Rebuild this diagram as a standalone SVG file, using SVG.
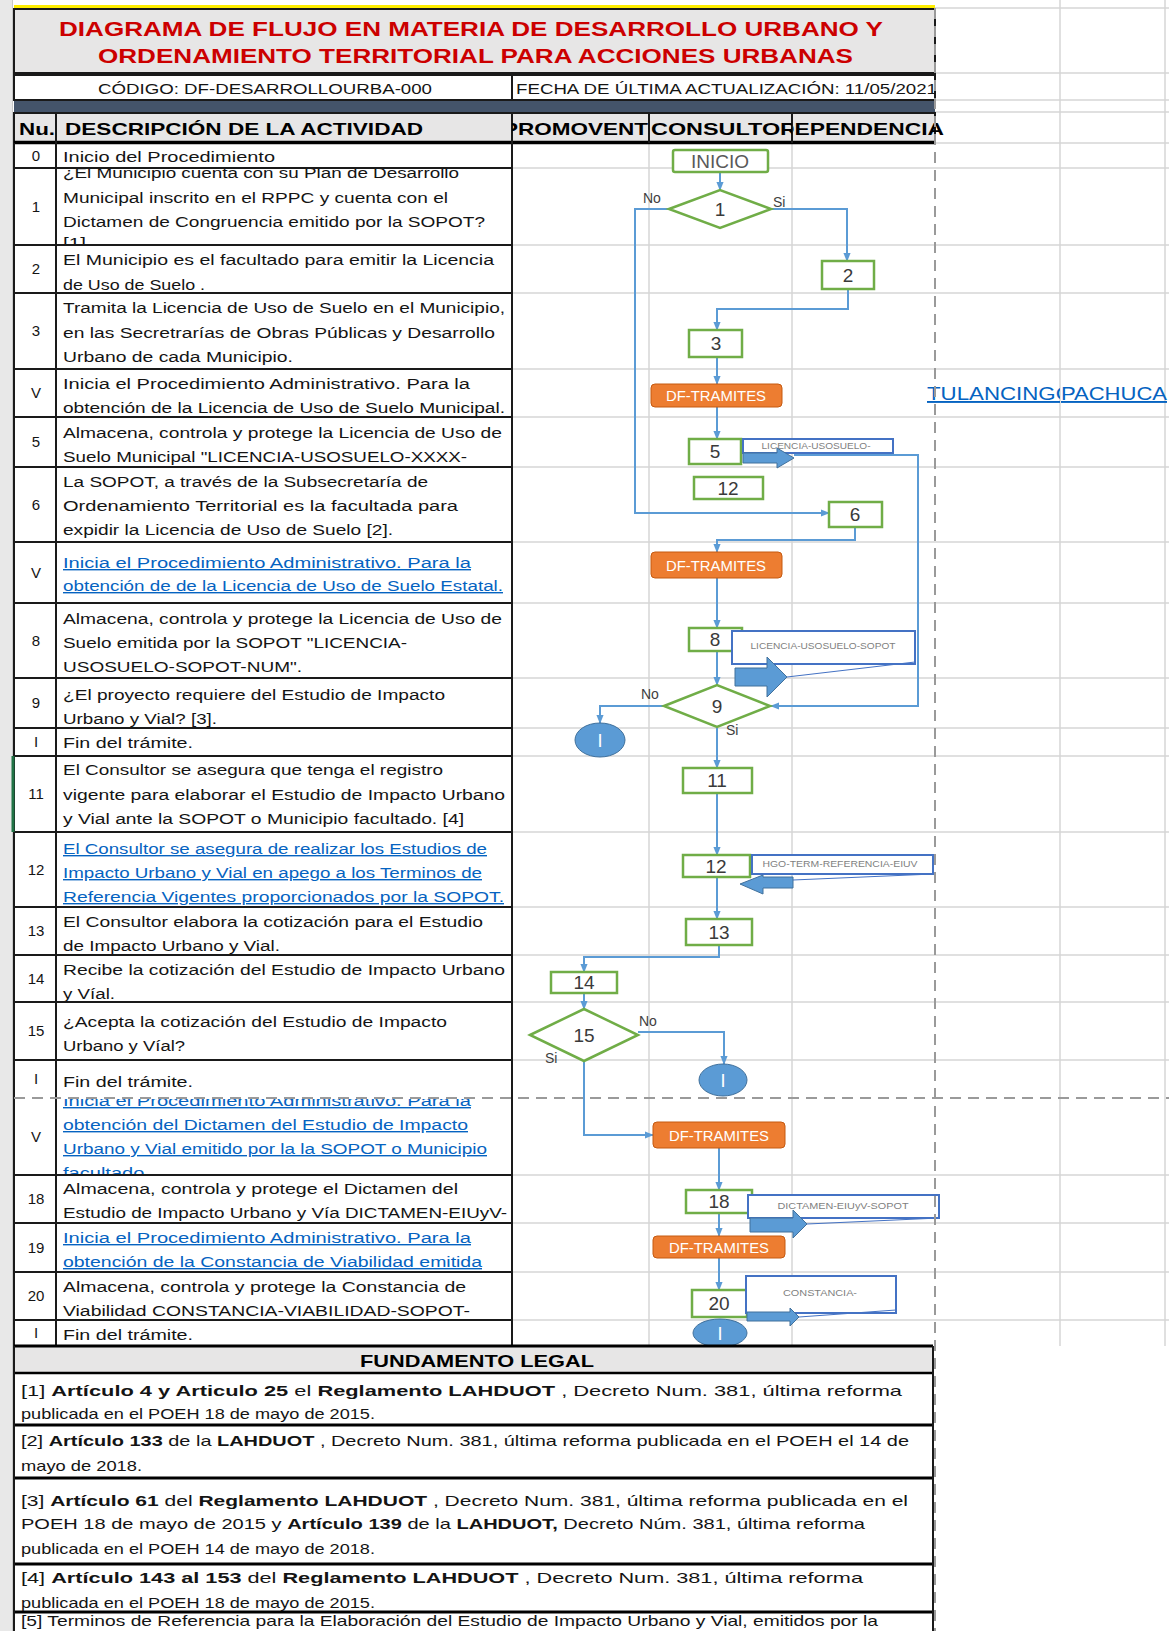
<svg xmlns="http://www.w3.org/2000/svg" width="1169" height="1631" viewBox="0 0 1169 1631">
<style>
.d{font-family:"Liberation Sans",Arial,sans-serif;font-size:14px;fill:#141414}
.lk{fill:#0563c1;text-decoration:underline}
.n{font-family:"Liberation Sans",Arial,sans-serif;font-size:15px;fill:#141414;text-anchor:middle}
.h{font-family:"Liberation Sans",Arial,sans-serif;font-size:17px;font-weight:bold;fill:#000}
.lg{font-family:"Liberation Sans",Arial,sans-serif;font-size:15px;fill:#141414}
.b{font-weight:bold}
.grid{stroke:#d6d6d6;stroke-width:1.5}
.blk{stroke:#1a1a1a;stroke-width:2}
.box{fill:#fff;stroke:#70ad47;stroke-width:2.5}
.bt{font-family:"Liberation Sans",Arial,sans-serif;font-size:19px;fill:#3a3a3a;text-anchor:middle}
.df{fill:#ed7d31;stroke:#c55a11;stroke-width:1}
.dft{font-family:"Liberation Sans",Arial,sans-serif;font-size:15px;fill:#fff;text-anchor:middle}
.end{fill:#5b9bd5;stroke:#41719c;stroke-width:1}
.endt{font-family:"Liberation Sans",Arial,sans-serif;font-size:18px;fill:#fff;text-anchor:middle}
.lbl{fill:#fff;stroke:#4472c4;stroke-width:2}
.lblt{font-family:"Liberation Sans",Arial,sans-serif;font-size:9px;fill:#7f7f7f;text-anchor:middle}
.ba{fill:#5b9bd5;stroke:#41719c;stroke-width:1}
.tail{stroke:#4472c4;stroke-width:1;fill:none}
.cn{fill:none;stroke:#5b9bd5;stroke-width:2}
.yn{font-family:"Liberation Sans",Arial,sans-serif;font-size:14px;fill:#404040}
.dash{stroke:#9a9a9a;stroke-width:2;stroke-dasharray:11 7}
</style>
<defs>
<marker id="ah" viewBox="0 0 10 10" refX="9" refY="5" markerWidth="9" markerHeight="9" markerUnits="userSpaceOnUse" orient="auto"><path d="M0,1 L10,5 L0,9 z" fill="#5b9bd5"/></marker>
<clipPath id="cProm"><rect x="512" y="113" width="137" height="30"/></clipPath>
<clipPath id="cCons"><rect x="649" y="113" width="143" height="30"/></clipPath>
<clipPath id="cDep"><rect x="793" y="113" width="200" height="30"/></clipPath>
<clipPath id="cFecha"><rect x="513" y="76" width="422" height="24"/></clipPath>
<clipPath id="cTul"><rect x="900" y="370" width="160" height="40"/></clipPath>
<clipPath id="r1"><rect x="57" y="169" width="454" height="75"/></clipPath>
<clipPath id="r14"><rect x="57" y="956" width="454" height="45"/></clipPath>
<clipPath id="r17"><rect x="57" y="1099" width="454" height="75"/></clipPath>
<clipPath id="r19"><rect x="57" y="1224" width="454" height="47"/></clipPath>
<clipPath id="r5"><rect x="57" y="418" width="454" height="48"/></clipPath>
</defs>

<rect x="0" y="0" width="1169" height="1631" fill="#fff"/>
<rect x="0" y="0" width="12" height="1631" fill="#e8e8e8"/>
<line x1="12.5" y1="0" x2="12.5" y2="1631" stroke="#c8c8c8"/>

<g id="grid">
<line class="grid" x1="1060" y1="0" x2="1060" y2="1346"/>
<line class="grid" x1="1165" y1="0" x2="1165" y2="1346"/>
<line class="grid" x1="935" y1="8" x2="1169" y2="8"/>
<line class="grid" x1="935" y1="73" x2="1169" y2="73"/>
<line class="grid" x1="935" y1="100" x2="1169" y2="100"/>
<line class="grid" x1="935" y1="112" x2="1169" y2="112"/>
<line class="grid" x1="935" y1="143" x2="1169" y2="143"/>
<line class="grid" x1="649" y1="143" x2="649" y2="1346"/>
<line class="grid" x1="792" y1="143" x2="792" y2="1346"/>
<line class="grid" x1="512" y1="168" x2="1169" y2="168"/>
<line class="grid" x1="512" y1="245" x2="1169" y2="245"/>
<line class="grid" x1="512" y1="293" x2="1169" y2="293"/>
<line class="grid" x1="512" y1="369" x2="1169" y2="369"/>
<line class="grid" x1="512" y1="417" x2="1169" y2="417"/>
<line class="grid" x1="512" y1="467" x2="1169" y2="467"/>
<line class="grid" x1="512" y1="542" x2="1169" y2="542"/>
<line class="grid" x1="512" y1="603" x2="1169" y2="603"/>
<line class="grid" x1="512" y1="678" x2="1169" y2="678"/>
<line class="grid" x1="512" y1="728" x2="1169" y2="728"/>
<line class="grid" x1="512" y1="756" x2="1169" y2="756"/>
<line class="grid" x1="512" y1="832" x2="1169" y2="832"/>
<line class="grid" x1="512" y1="907" x2="1169" y2="907"/>
<line class="grid" x1="512" y1="955" x2="1169" y2="955"/>
<line class="grid" x1="512" y1="1002" x2="1169" y2="1002"/>
<line class="grid" x1="512" y1="1060" x2="1169" y2="1060"/>
<line class="grid" x1="512" y1="1175" x2="1169" y2="1175"/>
<line class="grid" x1="512" y1="1223" x2="1169" y2="1223"/>
<line class="grid" x1="512" y1="1272" x2="1169" y2="1272"/>
<line class="grid" x1="512" y1="1320" x2="1169" y2="1320"/>
</g>

<g id="title">
<rect x="14" y="5" width="921" height="4" fill="#ffee00"/>
<rect x="14" y="9" width="921" height="64" fill="#e7e6e6" stroke="#1a1a1a" stroke-width="2"/>
<text x="59" y="36" textLength="824" lengthAdjust="spacingAndGlyphs" style="font-family:'Liberation Sans',Arial,sans-serif;font-size:21px;font-weight:bold;fill:#cc0000">DIAGRAMA DE FLUJO EN MATERIA DE DESARROLLO URBANO Y</text>
<text x="98" y="63" textLength="755" lengthAdjust="spacingAndGlyphs" style="font-family:'Liberation Sans',Arial,sans-serif;font-size:21px;font-weight:bold;fill:#cc0000">ORDENAMIENTO TERRITORIAL PARA ACCIONES URBANAS</text>
</g>

<g id="codigo">
<rect x="14" y="75" width="921" height="25" fill="#fff" stroke="#1a1a1a" stroke-width="2"/>
<line class="blk" x1="512" y1="75" x2="512" y2="100"/>
<text x="98" y="94" textLength="334" lengthAdjust="spacingAndGlyphs" style="font-family:'Liberation Sans',Arial,sans-serif;font-size:15px;fill:#141414">CÓDIGO: DF-DESARROLLOURBA-000</text>
<text x="516" y="94" textLength="421" lengthAdjust="spacingAndGlyphs" clip-path="url(#cFecha)" style="font-family:'Liberation Sans',Arial,sans-serif;font-size:15px;fill:#141414">FECHA DE ÚLTIMA ACTUALIZACIÓN: 11/05/2021</text>
</g>

<rect x="14" y="101" width="921" height="11" fill="#44546a"/>

<g id="header">
<rect x="14" y="113" width="921" height="30" fill="#e7e6e6" stroke="#1a1a1a" stroke-width="2"/>
<line x1="14" y1="142.5" x2="935" y2="142.5" stroke="#000" stroke-width="3.5"/>
<line class="blk" x1="56" y1="113" x2="56" y2="143"/>
<line class="blk" x1="512" y1="113" x2="512" y2="143"/>
<line class="blk" x1="649" y1="113" x2="649" y2="143"/>
<line class="blk" x1="792" y1="113" x2="792" y2="143"/>
<text class="h" x="19" y="135" textLength="36" lengthAdjust="spacingAndGlyphs">Nu.</text>
<text class="h" x="65" y="135" textLength="358" lengthAdjust="spacingAndGlyphs">DESCRIPCIÓN DE LA ACTIVIDAD</text>
<text class="h" x="503" y="135" textLength="160" lengthAdjust="spacingAndGlyphs" clip-path="url(#cProm)">PROMOVENTE</text>
<text class="h" x="651" y="135" textLength="146" lengthAdjust="spacingAndGlyphs" clip-path="url(#cCons)">CONSULTOR</text>
<text class="h" x="778" y="135" textLength="166" lengthAdjust="spacingAndGlyphs" clip-path="url(#cDep)">DEPENDENCIA</text>
</g>

<g id="tabla">
<line class="blk" x1="14" y1="143" x2="14" y2="1346"/>
<line class="blk" x1="56" y1="143" x2="56" y2="1346"/>
<line class="blk" x1="512" y1="143" x2="512" y2="1346"/>
<line class="blk" x1="14" y1="168" x2="512" y2="168"/>
<line class="blk" x1="14" y1="245" x2="512" y2="245"/>
<line class="blk" x1="14" y1="293" x2="512" y2="293"/>
<line class="blk" x1="14" y1="369" x2="512" y2="369"/>
<line class="blk" x1="14" y1="417" x2="512" y2="417"/>
<line class="blk" x1="14" y1="467" x2="512" y2="467"/>
<line class="blk" x1="14" y1="542" x2="512" y2="542"/>
<line class="blk" x1="14" y1="603" x2="512" y2="603"/>
<line class="blk" x1="14" y1="678" x2="512" y2="678"/>
<line class="blk" x1="14" y1="728" x2="512" y2="728"/>
<line class="blk" x1="14" y1="756" x2="512" y2="756"/>
<line class="blk" x1="14" y1="832" x2="512" y2="832"/>
<line class="blk" x1="14" y1="907" x2="512" y2="907"/>
<line class="blk" x1="14" y1="955" x2="512" y2="955"/>
<line class="blk" x1="14" y1="1002" x2="512" y2="1002"/>
<line class="blk" x1="14" y1="1060" x2="512" y2="1060"/>
<line class="blk" x1="14" y1="1175" x2="512" y2="1175"/>
<line class="blk" x1="14" y1="1223" x2="512" y2="1223"/>
<line class="blk" x1="14" y1="1272" x2="512" y2="1272"/>
<line class="blk" x1="14" y1="1320" x2="512" y2="1320"/>
<line x1="13" y1="756" x2="13" y2="832" stroke="#217346" stroke-width="3"/>

<text class="n" x="36" y="161">0</text>
<text class="n" x="36" y="212">1</text>
<text class="n" x="36" y="274">2</text>
<text class="n" x="36" y="336">3</text>
<text class="n" x="36" y="398">V</text>
<text class="n" x="36" y="447">5</text>
<text class="n" x="36" y="510">6</text>
<text class="n" x="36" y="578">V</text>
<text class="n" x="36" y="646">8</text>
<text class="n" x="36" y="708">9</text>
<text class="n" x="36" y="747">I</text>
<text class="n" x="36" y="799">11</text>
<text class="n" x="36" y="875">12</text>
<text class="n" x="36" y="936">13</text>
<text class="n" x="36" y="984">14</text>
<text class="n" x="36" y="1036">15</text>
<text class="n" x="36" y="1084">I</text>
<text class="n" x="36" y="1142">V</text>
<text class="n" x="36" y="1204">18</text>
<text class="n" x="36" y="1253">19</text>
<text class="n" x="36" y="1301">20</text>
<text class="n" x="36" y="1338">I</text>

<text class="d" x="63" y="162" textLength="212" lengthAdjust="spacingAndGlyphs">Inicio del Procedimiento</text>
<g clip-path="url(#r1)">
<text class="d" x="63" y="178" textLength="396" lengthAdjust="spacingAndGlyphs">¿El Municipio cuenta con su Plan de Desarrollo</text>
<text class="d" x="63" y="203" textLength="385" lengthAdjust="spacingAndGlyphs">Municipal inscrito en el RPPC y cuenta con el</text>
<text class="d" x="63" y="227" textLength="422" lengthAdjust="spacingAndGlyphs">Dictamen de Congruencia emitido por la SOPOT?</text>
<text class="d" x="63" y="248" textLength="23" lengthAdjust="spacingAndGlyphs">[1]</text>
</g>
<text class="d" x="63" y="265" textLength="431" lengthAdjust="spacingAndGlyphs">El Municipio es el facultado para emitir la Licencia</text>
<text class="d" x="63" y="290" textLength="142" lengthAdjust="spacingAndGlyphs">de Uso de Suelo .</text>
<text class="d" x="63" y="313" textLength="442" lengthAdjust="spacingAndGlyphs">Tramita la Licencia de Uso de Suelo en el Municipio,</text>
<text class="d" x="63" y="338" textLength="432" lengthAdjust="spacingAndGlyphs">en las Secretrarías de Obras Públicas y Desarrollo</text>
<text class="d" x="63" y="362" textLength="230" lengthAdjust="spacingAndGlyphs">Urbano  de cada Municipio.</text>
<text class="d" x="63" y="389" textLength="407" lengthAdjust="spacingAndGlyphs">Inicia el Procedimiento Administrativo. Para la</text>
<text class="d" x="63" y="413" textLength="442" lengthAdjust="spacingAndGlyphs">obtención de la Licencia de Uso de Suelo Municipal.</text>
<g clip-path="url(#r5)">
<text class="d" x="63" y="438" textLength="439" lengthAdjust="spacingAndGlyphs">Almacena, controla y protege la Licencia de Uso de</text>
<text class="d" x="63" y="462" textLength="404" lengthAdjust="spacingAndGlyphs">Suelo Municipal "LICENCIA-USOSUELO-XXXX-</text>
</g>
<text class="d" x="63" y="487" textLength="365" lengthAdjust="spacingAndGlyphs">La SOPOT, a través de la Subsecretaría de</text>
<text class="d" x="63" y="511" textLength="395" lengthAdjust="spacingAndGlyphs">Ordenamiento Territorial  es la facultada para</text>
<text class="d" x="63" y="535" textLength="330" lengthAdjust="spacingAndGlyphs">expidir la Licencia de Uso de Suelo [2].</text>
<text class="d lk" x="63" y="568" textLength="408" lengthAdjust="spacingAndGlyphs">Inicia el Procedimiento Administrativo. Para la</text>
<text class="d lk" x="63" y="591" textLength="440" lengthAdjust="spacingAndGlyphs">obtención de de la Licencia de Uso de Suelo Estatal.</text>
<text class="d" x="63" y="624" textLength="439" lengthAdjust="spacingAndGlyphs">Almacena, controla y protege la Licencia de Uso de</text>
<text class="d" x="63" y="648" textLength="344" lengthAdjust="spacingAndGlyphs">Suelo emitida por la SOPOT "LICENCIA-</text>
<text class="d" x="63" y="672" textLength="239" lengthAdjust="spacingAndGlyphs">USOSUELO-SOPOT-NUM".</text>
<text class="d" x="63" y="700" textLength="382" lengthAdjust="spacingAndGlyphs">¿El proyecto requiere del Estudio de Impacto</text>
<text class="d" x="63" y="724" textLength="154" lengthAdjust="spacingAndGlyphs">Urbano y Vial? [3].</text>
<text class="d" x="63" y="748" textLength="130" lengthAdjust="spacingAndGlyphs">Fin del trámite.</text>
<text class="d" x="63" y="775" textLength="380" lengthAdjust="spacingAndGlyphs">El Consultor se asegura que tenga el registro</text>
<text class="d" x="63" y="800" textLength="442" lengthAdjust="spacingAndGlyphs">vigente para elaborar el Estudio de Impacto Urbano</text>
<text class="d" x="63" y="824" textLength="401" lengthAdjust="spacingAndGlyphs">y Vial ante la SOPOT o Municipio facultado. [4]</text>
<text class="d lk" x="63" y="854" textLength="424" lengthAdjust="spacingAndGlyphs">El Consultor se asegura de realizar los Estudios de</text>
<text class="d lk" x="63" y="878" textLength="419" lengthAdjust="spacingAndGlyphs">Impacto Urbano y Vial en apego a los Terminos de</text>
<text class="d lk" x="63" y="902" textLength="441" lengthAdjust="spacingAndGlyphs">Referencia Vigentes proporcionados por la SOPOT.</text>
<text class="d" x="63" y="927" textLength="420" lengthAdjust="spacingAndGlyphs">El Consultor elabora la cotización para el Estudio</text>
<text class="d" x="63" y="951" textLength="217" lengthAdjust="spacingAndGlyphs">de Impacto Urbano y Vial.</text>
<g clip-path="url(#r14)">
<text class="d" x="63" y="975" textLength="442" lengthAdjust="spacingAndGlyphs">Recibe la cotización del Estudio de Impacto Urbano</text>
<text class="d" x="63" y="999" textLength="52" lengthAdjust="spacingAndGlyphs">y Víal.</text>
</g>
<text class="d" x="63" y="1027" textLength="384" lengthAdjust="spacingAndGlyphs">¿Acepta la cotización del Estudio de Impacto</text>
<text class="d" x="63" y="1051" textLength="122" lengthAdjust="spacingAndGlyphs">Urbano y Víal?</text>
<text class="d" x="63" y="1087" textLength="130" lengthAdjust="spacingAndGlyphs">Fin del trámite.</text>
<g clip-path="url(#r17)">
<text class="d lk" x="63" y="1106" textLength="408" lengthAdjust="spacingAndGlyphs">Inicia el Procedimiento Administrativo. Para la</text>
<text class="d lk" x="63" y="1130" textLength="405" lengthAdjust="spacingAndGlyphs">obtención del Dictamen del Estudio de Impacto</text>
<text class="d lk" x="63" y="1154" textLength="424" lengthAdjust="spacingAndGlyphs">Urbano y Vial emitido por la la SOPOT o Municipio</text>
<text class="d lk" x="63" y="1178" textLength="87" lengthAdjust="spacingAndGlyphs">facultado.</text>
</g>
<text class="d" x="63" y="1194" textLength="395" lengthAdjust="spacingAndGlyphs">Almacena, controla y protege el Dictamen del</text>
<text class="d" x="63" y="1218" textLength="444" lengthAdjust="spacingAndGlyphs">Estudio de Impacto Urbano y Vía DICTAMEN-EIUyV-</text>
<g clip-path="url(#r19)">
<text class="d lk" x="63" y="1243" textLength="408" lengthAdjust="spacingAndGlyphs">Inicia el Procedimiento Administrativo. Para la</text>
<text class="d lk" x="63" y="1267" textLength="419" lengthAdjust="spacingAndGlyphs">obtención de la Constancia de Viabilidad emitida</text>
</g>
<text class="d" x="63" y="1292" textLength="403" lengthAdjust="spacingAndGlyphs">Almacena, controla y protege la Constancia de</text>
<text class="d" x="63" y="1316" textLength="407" lengthAdjust="spacingAndGlyphs">Viabilidad CONSTANCIA-VIABILIDAD-SOPOT-</text>
<text class="d" x="63" y="1340" textLength="130" lengthAdjust="spacingAndGlyphs">Fin del trámite.</text>
</g>

<g id="link">
<text x="927" y="400" textLength="146" lengthAdjust="spacingAndGlyphs" clip-path="url(#cTul)" style="font-family:'Liberation Sans',Arial,sans-serif;font-size:19px;fill:#0563c1;text-decoration:underline">TULANCINGO</text>
<text x="1061" y="400" textLength="106" lengthAdjust="spacingAndGlyphs" style="font-family:'Liberation Sans',Arial,sans-serif;font-size:19px;fill:#0563c1;text-decoration:underline">PACHUCA</text>
</g>

<g id="connectors">
<path class="cn" d="M720,172 V190" marker-end="url(#ah)"/>
<path class="cn" d="M669,209 H635 V513 H829" marker-end="url(#ah)"/>
<path class="cn" d="M771,209 H847 V261" marker-end="url(#ah)"/>
<path class="cn" d="M848,289 V309 H717 V330" marker-end="url(#ah)"/>
<path class="cn" d="M717,357 V384" marker-end="url(#ah)"/>
<path class="cn" d="M717,407 V439" marker-end="url(#ah)"/>
<path class="cn" d="M794,455 H918 V706 H771" marker-end="url(#ah)"/>
<path class="cn" d="M855,527 V540 H717 V552" marker-end="url(#ah)"/>
<path class="cn" d="M717,578 V628" marker-end="url(#ah)"/>
<path class="cn" d="M717,651 V685" marker-end="url(#ah)"/>
<path class="cn" d="M664,706 H600 V723" marker-end="url(#ah)"/>
<path class="cn" d="M717,727 V768" marker-end="url(#ah)"/>
<path class="cn" d="M717,793 V855" marker-end="url(#ah)"/>
<path class="cn" d="M717,877 V919" marker-end="url(#ah)"/>
<path class="cn" d="M719,945 V957 H584 V972" marker-end="url(#ah)"/>
<path class="cn" d="M584,993 V1009" marker-end="url(#ah)"/>
<path class="cn" d="M638,1032 H724 V1064" marker-end="url(#ah)"/>
<path class="cn" d="M584,1061 V1135 H653" marker-end="url(#ah)"/>
<path class="cn" d="M719,1148 V1190" marker-end="url(#ah)"/>
<path class="cn" d="M719,1213 V1236" marker-end="url(#ah)"/>
<path class="cn" d="M719,1258 V1290" marker-end="url(#ah)"/>
</g>

<g id="n-inicio"><rect class="box" x="673" y="150" width="95" height="22" rx="2"/><text class="bt" x="720" y="168" style="fill:#595959">INICIO</text></g>
<g id="n-1"><path class="box" d="M669,209 L720,190 L771,209 L720,228 Z"/><text class="bt" x="720" y="216">1</text></g>
<g id="n-2"><rect class="box" x="822" y="261" width="52" height="28"/><text class="bt" x="848" y="282">2</text></g>
<g id="n-3"><rect class="box" x="689" y="330" width="53" height="27"/><text class="bt" x="716" y="350">3</text></g>
<g id="n-df1"><rect class="df" x="651" y="384" width="131" height="23" rx="4"/><text class="dft" x="716" y="401" textLength="100" lengthAdjust="spacingAndGlyphs">DF-TRAMITES</text></g>
<g id="n-5"><rect class="box" x="689" y="439" width="52" height="25"/><text class="bt" x="715" y="458">5</text></g>
<g id="n-12a"><rect class="box" x="694" y="477" width="69" height="22"/><text class="bt" x="728" y="495">12</text></g>
<g id="n-6"><rect class="box" x="829" y="502" width="53" height="25"/><text class="bt" x="855" y="521">6</text></g>
<g id="n-df2"><rect class="df" x="651" y="552" width="131" height="26" rx="4"/><text class="dft" x="716" y="571" textLength="100" lengthAdjust="spacingAndGlyphs">DF-TRAMITES</text></g>
<g id="n-8"><rect class="box" x="689" y="628" width="53" height="23"/><text class="bt" x="715" y="646">8</text></g>
<g id="n-9"><path class="box" d="M664,706 L717,685 L770,706 L717,727 Z"/><text class="bt" x="717" y="713">9</text></g>
<g id="n-fin1"><ellipse class="end" cx="600" cy="740" rx="25" ry="17"/><text class="endt" x="600" y="747">I</text></g>
<g id="n-11"><rect class="box" x="683" y="768" width="69" height="25"/><text class="bt" x="717" y="787">11</text></g>
<g id="n-12b"><rect class="box" x="683" y="855" width="67" height="22"/><text class="bt" x="716" y="873">12</text></g>
<g id="n-13"><rect class="box" x="686" y="919" width="66" height="26"/><text class="bt" x="719" y="939">13</text></g>
<g id="n-14"><rect class="box" x="551" y="972" width="66" height="21"/><text class="bt" x="584" y="989">14</text></g>
<g id="n-15"><path class="box" d="M530,1035 L584,1009 L638,1035 L584,1061 Z"/><text class="bt" x="584" y="1042">15</text></g>
<g id="n-fin2"><ellipse class="end" cx="723" cy="1080" rx="24" ry="16"/><text class="endt" x="723" y="1087">I</text></g>
<g id="n-df3"><rect class="df" x="653" y="1122" width="132" height="26" rx="4"/><text class="dft" x="719" y="1141" textLength="100" lengthAdjust="spacingAndGlyphs">DF-TRAMITES</text></g>
<g id="n-18"><rect class="box" x="686" y="1190" width="66" height="23"/><text class="bt" x="719" y="1208">18</text></g>
<g id="n-df4"><rect class="df" x="653" y="1236" width="132" height="22" rx="4"/><text class="dft" x="719" y="1253" textLength="100" lengthAdjust="spacingAndGlyphs">DF-TRAMITES</text></g>
<g id="n-20"><rect class="box" x="692" y="1290" width="55" height="27"/><text class="bt" x="719" y="1310">20</text></g>
<g id="n-fin3"><ellipse class="end" cx="720" cy="1333" rx="27" ry="14"/><text class="endt" x="720" y="1340">I</text></g>

<g id="doc-5">
<rect class="lbl" x="743" y="439" width="150" height="14"/>
<text class="lblt" x="816" y="449" textLength="109" lengthAdjust="spacingAndGlyphs">LICENCIA-USOSUELO-</text>
<polygon class="ba" points="743,453 777,453 777,448 794,458 777,468 777,463 743,463"/>
</g>
<g id="doc-8">
<rect class="lbl" x="732" y="631" width="183" height="33"/>
<text class="lblt" x="823" y="649" textLength="145" lengthAdjust="spacingAndGlyphs">LICENCIA-USOSUELO-SOPOT</text>
<line class="tail" x1="787" y1="677" x2="915" y2="662"/>
<polygon class="ba" points="735,668 767,668 767,657 787,677 767,697 767,686 735,686"/>
</g>
<g id="doc-12">
<rect class="lbl" x="752" y="855" width="181" height="19"/>
<text class="lblt" x="840" y="867" textLength="155" lengthAdjust="spacingAndGlyphs">HGO-TERM-REFERENCIA-EIUV</text>
<line class="tail" x1="793" y1="880" x2="933" y2="874"/>
<polygon class="ba" points="793,877 763,877 763,875 740,884 763,894 763,888 793,888"/>
</g>
<g id="doc-18">
<rect class="lbl" x="748" y="1195" width="191" height="23"/>
<text class="lblt" x="843" y="1209" textLength="131" lengthAdjust="spacingAndGlyphs">DICTAMEN-EIUyV-SOPOT</text>
<line class="tail" x1="807" y1="1224" x2="939" y2="1218"/>
<polygon class="ba" points="750,1218 793,1218 793,1210 807,1224 793,1238 793,1232 750,1232"/>
</g>
<g id="doc-20">
<rect class="lbl" x="746" y="1276" width="150" height="37"/>
<text class="lblt" x="820" y="1296" textLength="74" lengthAdjust="spacingAndGlyphs">CONSTANCIA-</text>
<line class="tail" x1="799" y1="1317" x2="896" y2="1310"/>
<polygon class="ba" points="747,1312 790,1312 790,1308 799,1317 790,1326 790,1321 747,1321"/>
</g>

<g id="labels-sino">
<text class="yn" x="643" y="203">No</text>
<text class="yn" x="773" y="207">Si</text>
<text class="yn" x="641" y="699">No</text>
<text class="yn" x="726" y="735">Si</text>
<text class="yn" x="639" y="1026">No</text>
<text class="yn" x="545" y="1063">Si</text>
</g>

<g id="legal">
<rect x="14" y="1346" width="919" height="27" fill="#e7e6e6"/>
<line x1="14" y1="1346" x2="933" y2="1346" stroke="#000" stroke-width="3"/>
<line x1="14" y1="1373" x2="933" y2="1373" stroke="#000" stroke-width="2.5"/>
<line x1="14" y1="1425" x2="933" y2="1425" stroke="#000" stroke-width="3"/>
<line x1="14" y1="1478" x2="933" y2="1478" stroke="#000" stroke-width="3"/>
<line x1="14" y1="1564" x2="933" y2="1564" stroke="#000" stroke-width="3"/>
<line x1="14" y1="1612" x2="933" y2="1612" stroke="#000" stroke-width="3"/>
<line class="blk" x1="14" y1="1346" x2="14" y2="1631"/>
<line class="blk" x1="933" y1="1346" x2="933" y2="1631"/>
<text class="h" x="360" y="1367" textLength="234" lengthAdjust="spacingAndGlyphs">FUNDAMENTO LEGAL</text>
<text class="lg" x="21" y="1396" textLength="881" lengthAdjust="spacingAndGlyphs">[1] <tspan class="b">Artículo 4 y Articulo 25</tspan>  el <tspan class="b">Reglamento LAHDUOT</tspan> , Decreto Num. 381, última reforma</text>
<text class="lg" x="21" y="1419" textLength="354" lengthAdjust="spacingAndGlyphs">publicada en el POEH 18 de mayo de 2015.</text>
<text class="lg" x="21" y="1446" textLength="888" lengthAdjust="spacingAndGlyphs">[2] <tspan class="b">Artículo 133</tspan>  de la <tspan class="b">LAHDUOT</tspan> , Decreto Num. 381, última reforma publicada en el POEH el 14 de</text>
<text class="lg" x="21" y="1471" textLength="121" lengthAdjust="spacingAndGlyphs">mayo de 2018.</text>
<text class="lg" x="21" y="1506" textLength="887" lengthAdjust="spacingAndGlyphs">[3] <tspan class="b">Artículo 61</tspan> del <tspan class="b">Reglamento LAHDUOT</tspan> , Decreto Num. 381, última reforma publicada en el</text>
<text class="lg" x="21" y="1529" textLength="844" lengthAdjust="spacingAndGlyphs">POEH 18 de mayo de 2015 y <tspan class="b">Artículo 139</tspan>  de la <tspan class="b">LAHDUOT,</tspan> Decreto Núm. 381, última reforma</text>
<text class="lg" x="21" y="1554" textLength="354" lengthAdjust="spacingAndGlyphs">publicada en el POEH 14 de mayo de 2018.</text>
<text class="lg" x="21" y="1583" textLength="842" lengthAdjust="spacingAndGlyphs">[4] <tspan class="b">Artículo 143 al 153</tspan>  del <tspan class="b">Reglamento LAHDUOT</tspan> , Decreto Num. 381, última reforma</text>
<text class="lg" x="21" y="1608" textLength="354" lengthAdjust="spacingAndGlyphs">publicada en el POEH 18 de mayo de 2015.</text>
<text class="lg" x="21" y="1626" textLength="857" lengthAdjust="spacingAndGlyphs">[5] Terminos de Referencia para la Elaboración del Estudio de Impacto Urbano y Vial, emitidos por la</text>
</g>

<g id="page-breaks">
<line class="dash" x1="935" y1="8" x2="935" y2="1631"/>
<line class="dash" x1="14" y1="1098" x2="1169" y2="1098"/>
</g>
</svg>
